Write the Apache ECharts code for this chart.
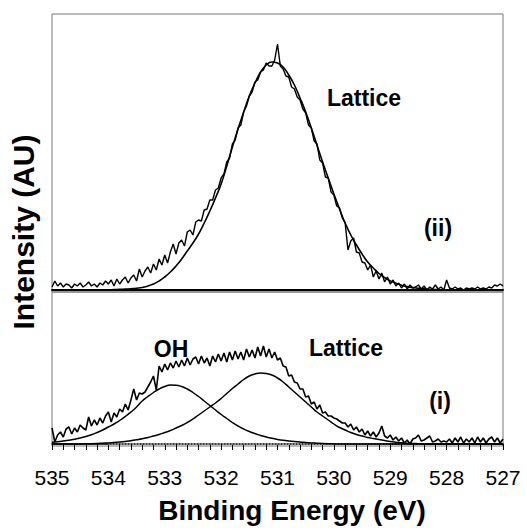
<!DOCTYPE html>
<html>
<head>
<meta charset="utf-8">
<script src="https://cdn.jsdelivr.net/npm/echarts@6/dist/echarts.min.js"></script>
<style>
html,body{margin:0;padding:0;background:#fff;}
#chart{width:527px;height:531px;}
</style>
</head>
<body>
<div id="chart"></div>
<script>
// Energy grid (eV), descending from 535 to 527
const E_START = 535;
const RAW_STEP = 0.05;
const FIT_STEP = 0.1;

// x-axis ticks
const xTicks = [535, 534, 533, 532, 531, 530, 529, 528, 527];

// (ii) top spectrum: raw data, 0.05 eV steps from 535.00 to 527.00
const rawTop = [
  3,9,4,7,3,6,5,2,6,4,7,3,5,8,4,6,3,7,5,9,
  6,10,4,11,6,10,13,7,12,15,9,21,13,19,23,17,26,20,31,25,
  35,27,38,46,36,47,50,44,58,60,55,68,70,69,80,81,90,90,100,102,
  112,116,128,132,146,150,162,165,178,184,194,198,208,210,218,220,227,224,224,230,
  246,224,221,214,213,203,201,193,190,181,177,165,162,149,146,130,127,113,112,98,
  95,84,82,72,67,40,49,52,38,37,28,27,20,25,13,19,11,17,8,13,
  6,10,4,7,2,6,1,5,2,3,5,1,4,0,3,1,5,1,3,0,
  10,2,1,3,1,2,0,2,1,2,1,3,1,2,1,3,2,5,4,6,
  4
];

// (ii) top spectrum: fitted lattice peak, 0.1 eV steps from 535.0 to 527.0
const fitTop = [
  0,0,0,0,0,0,0,0,0,0,
  0.2,0.4,0.6,0.9,1.3,1.8,2.5,4,6,9,
  13,18,24,31,39,47,56,67,79,92,
  106,124,143,161,178,194,207,218,225,228,
  227,223,215,205,192,178,162,145,128,112,
  96,81,67,55,45,36,28,22,16.5,12.4,
  9.1,6.7,4.8,3.4,2.4,1.6,1.1,0.7,0.5,0.3,
  0,0,0,0,0,0,0,0,0,0,
  0
];

// (i) bottom spectrum: raw data, 0.05 eV steps from 535.00 to 527.00
const rawBottom = [
  16,2,9,12,7,15,17,10,16,12,19,16,14,27,18,24,19,26,21,28,
  32,22,31,27,35,32,40,34,44,55,44,51,50,52,57,62,68,54,78,72,
  80,74,81,76,83,77,84,78,86,79,85,87,80,88,81,86,78,88,82,90,
  83,91,82,92,84,93,85,92,84,95,87,94,86,97,88,98,87,95,86,92,
  84,86,78,77,68,69,62,61,55,55,47,48,40,42,35,39,31,32,28,28,
  26,25,23,21,21,17,20,14,17,12,15,9,13,8,12,7,11,18,8,6,
  9,4,7,3,6,1,4,0,5,6,9,3,4,6,8,2,3,5,2,3,
  2,5,1,6,2,7,1,5,2,6,1,7,2,6,1,5,7,2,6,1,
  5
];

// (i) bottom spectrum: OH component, 0.1 eV steps from 535.0 to 527.0
const fitOH = [
  1.8,2.3,3,3.8,4.8,6,7.5,9.3,11.5,14,
  17,20,23.5,27.5,32,37,43,47.5,51.5,55,
  57.5,59,58.8,57.5,55,51.5,47.5,43,38.5,34,
  29.5,25.5,21.5,18,15,12.5,10.5,8.5,7,5.7,
  4.6,3.7,3,2.4,1.9,1.5,1.1,0.8,0.5,0.3,
  0.2,0,0,0,0,0,0,0,0,0,
  0,0,0,0,0,0,0,0,0,0,
  0,0,0,0,0,0,0,0,0,0,
  0
];

// (i) bottom spectrum: lattice component, 0.1 eV steps from 535.0 to 527.0
const fitLattice = [
  0,0,0,0,0,0,0.2,0.3,0.5,0.8,
  1.1,1.5,2,2.6,3.3,4.2,5.2,6.5,8,9.5,
  11.5,13.5,16,18.5,21.5,25,29,33,37,41,
  45.5,50.5,55.5,60,64.5,68,70,71,70.5,69,
  66,62,57,52,47,42,37,32,28,24,
  20,16.5,14,11.5,9.5,8,6.5,5.5,4.5,3.5,
  2.5,1.8,1.2,0.8,0.5,0.3,0,0,0,0,
  0,0,0,0,0,0,0,0,0,0,
  0
];

// (i) background line
const bgE = [534.0, 527.0];
const bgV = [0, 0];

function toPairs(arr, step) {
  return arr.map((v, i) => [+(E_START - i * step).toFixed(2), v]);
}

const FONT = "'Liberation Sans', Arial, Helvetica, sans-serif";
const chart = echarts.init(document.getElementById('chart'), null, {renderer: 'svg'});

const lineBase = {type: 'line', showSymbol: false, symbol: 'none', silent: true, animation: false};

chart.setOption({
  animation: false,
  backgroundColor: '#fff',
  grid: [
    {left: 52, right: 24, top: 14, height: 278, show: true, borderColor: '#777', borderWidth: 1},
    {left: 52, right: 24, top: 292, height: 154, show: true, borderColor: '#777', borderWidth: 1}
  ],
  xAxis: [
    {
      type: 'value', gridIndex: 0, min: 527, max: 535, interval: 1, inverse: true,
      axisLine: {show: true, lineStyle: {color: '#000', width: 2}},
      axisTick: {show: false}, axisLabel: {show: false}, splitLine: {show: false}
    },
    {
      type: 'value', gridIndex: 1, min: 527, max: 535, interval: 1, inverse: true,
      axisLine: {show: true, lineStyle: {color: '#000', width: 1.5}},
      axisTick: {show: true, inside: false, length: 6, lineStyle: {color: '#000', width: 1}},
      minorTick: {show: true, splitNumber: 5, length: 6, lineStyle: {color: '#000', width: 1}},
      axisLabel: {
        show: true, margin: 21, color: '#000', fontSize: 21, fontFamily: FONT,
        formatter: v => xTicks.includes(v) ? String(v) : ''
      },
      splitLine: {show: false}, minorSplitLine: {show: false}
    }
  ],
  yAxis: [
    {type: 'value', gridIndex: 0, min: -2, max: 276, show: false, splitLine: {show: false}},
    {type: 'value', gridIndex: 1, min: -2, max: 152, show: false, splitLine: {show: false}}
  ],
  series: [
    Object.assign({}, lineBase, {name: 'raw (ii)', xAxisIndex: 0, yAxisIndex: 0,
      data: toPairs(rawTop, RAW_STEP), lineStyle: {color: '#000', width: 1.4}}),
    Object.assign({}, lineBase, {name: 'fit (ii)', xAxisIndex: 0, yAxisIndex: 0, smooth: true,
      data: toPairs(fitTop, FIT_STEP), lineStyle: {color: '#000', width: 1.6}}),
    Object.assign({}, lineBase, {name: 'background (i)', xAxisIndex: 1, yAxisIndex: 1,
      data: bgE.map((e, i) => [e, bgV[i]]), lineStyle: {color: '#bbb', width: 1.5, type: 'dotted'}}),
    Object.assign({}, lineBase, {name: 'raw (i)', xAxisIndex: 1, yAxisIndex: 1,
      data: toPairs(rawBottom, RAW_STEP), lineStyle: {color: '#000', width: 1.6}}),
    Object.assign({}, lineBase, {name: 'OH', xAxisIndex: 1, yAxisIndex: 1, smooth: true,
      data: toPairs(fitOH, FIT_STEP), lineStyle: {color: '#000', width: 1.5}}),
    Object.assign({}, lineBase, {name: 'Lattice', xAxisIndex: 1, yAxisIndex: 1, smooth: true,
      data: toPairs(fitLattice, FIT_STEP), lineStyle: {color: '#000', width: 1.5}})
  ],
  graphic: [
    {type: 'text', x: 23, y: 232, rotation: Math.PI / 2,
      style: {text: 'Intensity (AU)', fill: '#000', font: 'bold 30px ' + FONT, textAlign: 'center', textVerticalAlign: 'middle'}},
    {type: 'text', x: 292, y: 510,
      style: {text: 'Binding Energy (eV)', fill: '#000', font: 'bold 28px ' + FONT, textAlign: 'center', textVerticalAlign: 'middle'}},
    {type: 'text', x: 364, y: 98,
      style: {text: 'Lattice', fill: '#000', font: 'bold 23px ' + FONT, textAlign: 'center', textVerticalAlign: 'middle'}},
    {type: 'text', x: 438, y: 228,
      style: {text: '(ii)', fill: '#000', font: 'bold 23px ' + FONT, textAlign: 'center', textVerticalAlign: 'middle'}},
    {type: 'text', x: 171, y: 349,
      style: {text: 'OH', fill: '#000', font: 'bold 23px ' + FONT, textAlign: 'center', textVerticalAlign: 'middle'}},
    {type: 'text', x: 346, y: 348,
      style: {text: 'Lattice', fill: '#000', font: 'bold 23px ' + FONT, textAlign: 'center', textVerticalAlign: 'middle'}},
    {type: 'text', x: 440, y: 401,
      style: {text: '(i)', fill: '#000', font: 'bold 23px ' + FONT, textAlign: 'center', textVerticalAlign: 'middle'}}
  ]
});
</script>
</body>
</html>
